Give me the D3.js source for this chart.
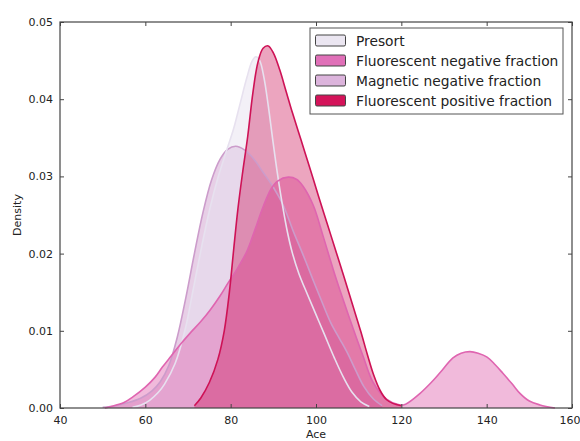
<!DOCTYPE html>
<html>
<head>
<meta charset="utf-8">
<script src="https://cdn.jsdelivr.net/npm/d3@7"></script>
<style>
  html, body { margin: 0; padding: 0; background: #fff; }
  svg { display: block; font-family: "DejaVu Sans", sans-serif; }
</style>
</head>
<body>
<svg id="chart" width="580" height="441"></svg>
<script>
// ---- data ----
const seriesNames = ["Presort", "Fluorescent negative fraction", "Magnetic negative fraction", "Fluorescent positive fraction"];
const xTicks = [40, 60, 80, 100, 120, 140, 160];
const yTicks = [0.00, 0.01, 0.02, 0.03, 0.04, 0.05];

const presort = [[57,0.0001],[59,0.0004],[61,0.001],[63,0.002],[64.5,0.0031],[67,0.0058],[69.3,0.0101],[71.2,0.0153],[73.2,0.0209],[75.2,0.026],[77,0.0298],[79,0.0333],[80.6,0.036],[82.2,0.0394],[83.8,0.0428],[85,0.0449],[85.9,0.0455],[86.8,0.0450],[87.8,0.0428],[88.8,0.0392],[89.8,0.0350],[90.9,0.0306],[92.1,0.0264],[93.3,0.0228],[94.5,0.0200],[96,0.0174],[98,0.0147],[100,0.0121],[102,0.0095],[104.3,0.0065],[106.5,0.0039],[108.5,0.0020],[110.5,0.0008],[112.5,0.0002]];

const fluorNeg = [[50.5,0.0000],[52,0.0002],[55,0.0007],[57,0.0014],[60,0.0027],[62.3,0.0040],[64,0.0053],[66,0.0067],[68,0.0081],[70.5,0.0097],[73,0.0112],[75.2,0.0127],[77.5,0.0145],[79.4,0.0162],[81.5,0.0180],[83.8,0.0203],[85.5,0.0228],[87.7,0.0262],[89.5,0.0284],[91,0.0294],[93.5,0.0299],[95.5,0.0296],[97,0.0287],[99.4,0.0262],[101.7,0.0222],[104.8,0.0166],[108,0.0114],[111.1,0.0066],[113.4,0.0033],[116.6,0.0011],[119.5,0.0004],[121,0.0005],[124.4,0.0019],[127,0.0033],[129.1,0.0046],[132.1,0.0065],[134,0.0071],[136.1,0.0073],[138,0.0071],[140.1,0.0066],[142,0.0056],[143.8,0.0045],[146,0.0031],[147.8,0.0019],[150,0.0009],[152.5,0.0004],[156,0.0000]];

const magNeg = [[50,0.0001],[53,0.0003],[56,0.0007],[59,0.0013],[61.5,0.0022],[63.5,0.0034],[65.5,0.0055],[67.5,0.0092],[69.5,0.0143],[71.5,0.0200],[73.5,0.0253],[75.5,0.0295],[77.5,0.0322],[79.3,0.0335],[81.2,0.0339],[83.3,0.0334],[85.5,0.0322],[87.5,0.0306],[90,0.0286],[92.3,0.0263],[94.6,0.0230],[97,0.0198],[99.3,0.0166],[101.5,0.0136],[103.5,0.0110],[105.5,0.0090],[107.3,0.0072],[109.2,0.0050],[111.2,0.0028],[113.4,0.0012],[115.5,0.0003]];

const fluorPos = [[71.5,0.0003],[73,0.0013],[75,0.0033],[77,0.0063],[78.5,0.0100],[79.7,0.0150],[80.7,0.0205],[81.7,0.0258],[82.8,0.0305],[84,0.0352],[85.2,0.0408],[86.4,0.0448],[87.6,0.0466],[88.8,0.0469],[90,0.0460],[91.5,0.0438],[93,0.0410],[94.5,0.0382],[96.5,0.0347],[98.5,0.0312],[100.5,0.0276],[102.5,0.0241],[104.5,0.0206],[106.5,0.0171],[108.5,0.0135],[110.5,0.0099],[112,0.0070],[113.5,0.0043],[115,0.0023],[116.5,0.0011],[118,0.0006],[120,0.0003]];

// ---- styles ----
const lineColors = ["#e7e1ef", "#df65b0", "#cc9ccb", "#ce1256"];
const fillColors = ["#e7e1ef", "#df65b0", "#c994c7", "#ce1256"];
const legendColors = ["#ebe6f1", "#e070b8", "#dcb4dc", "#d4145a"];
const fillAlpha = [0.5, 0.45, 0.45, 0.38];
const seriesData = [presort, fluorNeg, magNeg, fluorPos];
const fillOrder = [2, 0, 1, 3];

const svg = d3.select("#chart");
const L = 60, R = 572, T = 22, B = 408;

const x = d3.scaleLinear().domain([40, 160]).range([L, R]);
const y = d3.scaleLinear().domain([0, 0.05]).range([B, T]);

const curve = d3.curveCatmullRom.alpha(0.5);
const area = d3.area()
  .x(d => x(d[0])).y0(y(0)).y1(d => y(d[1]))
  .curve(curve);
const line = d3.line()
  .x(d => x(d[0])).y(d => y(d[1]))
  .curve(curve);

const g = svg.append("g");
fillOrder.forEach(i => {
  g.append("path").datum(seriesData[i])
    .attr("d", area)
    .attr("fill", fillColors[i])
    .attr("fill-opacity", fillAlpha[i])
    .attr("stroke", "none");
});
fillOrder.forEach(i => {
  g.append("path").datum(seriesData[i])
    .attr("d", line)
    .attr("fill", "none")
    .attr("stroke", lineColors[i])
    .attr("stroke-width", 1.6);
});

// ---- axes (classic matplotlib: inward ticks on all sides) ----
const frameColor = "#444";
const textColor = "#222";

const xAxis = svg.append("g").attr("transform", `translate(0,${B})`)
  .call(d3.axisBottom(x).tickValues(xTicks).tickSizeInner(-4).tickSizeOuter(0).tickPadding(8).tickFormat(d3.format("d")));
const xAxisTop = svg.append("g").attr("transform", `translate(0,${T})`)
  .call(d3.axisTop(x).tickValues(xTicks).tickSizeInner(-4).tickSizeOuter(0).tickFormat(""));
const yAxis = svg.append("g").attr("transform", `translate(${L},0)`)
  .call(d3.axisLeft(y).tickValues(yTicks).tickSizeInner(-4).tickSizeOuter(0).tickPadding(7).tickFormat(d3.format(".2f")));
const yAxisRight = svg.append("g").attr("transform", `translate(${R},0)`)
  .call(d3.axisRight(y).tickValues(yTicks).tickSizeInner(-4).tickSizeOuter(0).tickFormat(""));

[xAxis, xAxisTop, yAxis, yAxisRight].forEach(a => {
  a.select(".domain").remove();
  a.selectAll(".tick line").attr("stroke", frameColor).attr("stroke-width", 1);
  a.selectAll(".tick text").attr("fill", textColor).attr("font-size", 11)
    .attr("font-family", "DejaVu Sans, sans-serif");
});
// keep the last x tick label inside the picture
xAxis.selectAll(".tick text").filter(d => d === 160).attr("text-anchor", "end").attr("x", 8);

svg.append("rect").attr("x", L).attr("y", T).attr("width", R - L).attr("height", B - T)
  .attr("fill", "none").attr("stroke", frameColor).attr("stroke-width", 1.2);

svg.append("text").attr("x", (L + R) / 2).attr("y", 438).attr("text-anchor", "middle")
  .attr("font-size", 11).attr("fill", textColor).text("Ace");
svg.append("text").attr("transform", `translate(21,${(T + B) / 2}) rotate(-90)`)
  .attr("text-anchor", "middle").attr("font-size", 11).attr("fill", textColor).text("Density");

// ---- legend ----
const lg = svg.append("g").attr("transform", "translate(310,28)");
lg.append("rect").attr("width", 253).attr("height", 86)
  .attr("fill", "#fff").attr("stroke", "#555").attr("stroke-width", 1);
seriesNames.forEach((name, i) => {
  const cy = 12.5 + i * 20;
  lg.append("rect").attr("x", 5.5).attr("y", cy - 5.5).attr("width", 30).attr("height", 11)
    .attr("rx", 1.5)
    .attr("fill", legendColors[i]).attr("stroke", "#444").attr("stroke-width", 1);
  lg.append("text").attr("x", 46).attr("y", cy + 5)
    .attr("font-size", 13.8).attr("fill", textColor).text(name);
});
</script>
</body>
</html>
